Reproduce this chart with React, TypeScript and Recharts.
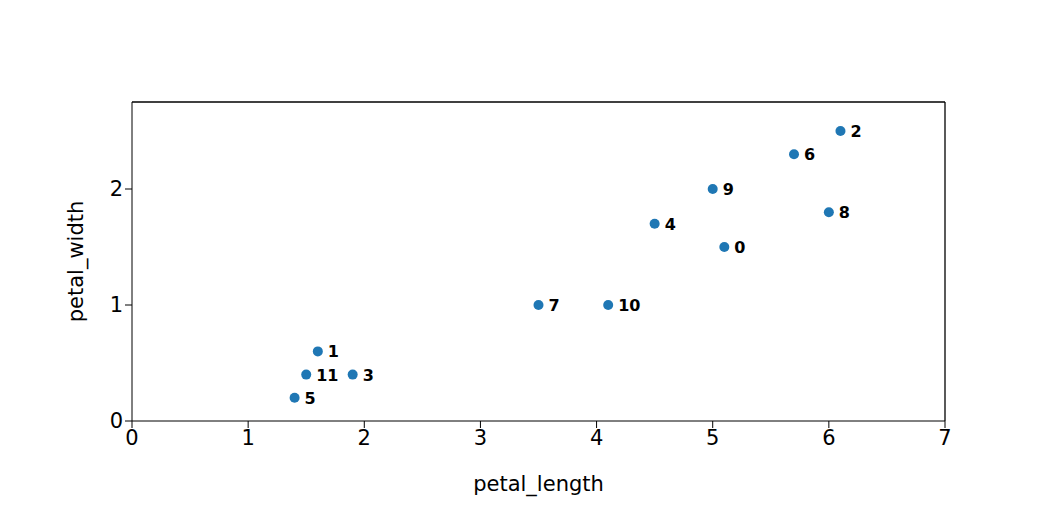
import React from "react";
import { ScatterChart, Scatter, XAxis, YAxis, LabelList, ReferenceLine } from "recharts";

const ids = ["0", "1", "2", "3", "4", "5", "6", "7", "8", "9", "10", "11"];
const petalLength = [5.1, 1.6, 6.1, 1.9, 4.5, 1.4, 5.7, 3.5, 6.0, 5.0, 4.1, 1.5];
const petalWidth = [1.5, 0.6, 2.5, 0.4, 1.7, 0.2, 2.3, 1.0, 1.8, 2.0, 1.0, 0.4];
const xTicks = [0, 1, 2, 3, 4, 5, 6, 7];
const yTicks = [0, 1, 2];

const data = ids.map((id, i) => ({ id, x: petalLength[i], y: petalWidth[i] }));

const font = "DejaVu Sans, sans-serif";

const App = () => {
  return (
    <div style={{ position: "absolute", left: 0, top: 0, fontFamily: font }}>
      <ScatterChart
        width={1052}
        height={527}
        margin={{ top: 102, right: 107, left: 72, bottom: 46 }}
      >
        <XAxis
          type="number"
          dataKey="x"
          domain={[0, 7]}
          ticks={xTicks}
          height={60}
          stroke="#000"
          tickSize={7}
          tick={{ fill: "#000", fontSize: 21, fontFamily: font }}
          label={{ value: "petal_length", position: "insideBottom", offset: -10, fill: "#000", fontSize: 21, fontFamily: font }}
        />
        <YAxis
          type="number"
          dataKey="y"
          domain={[0, 2.75]}
          ticks={yTicks}
          width={60}
          stroke="#000"
          tickSize={7}
          tick={{ fill: "#000", fontSize: 21, fontFamily: font }}
          label={{ value: "petal_width", angle: -90, position: "insideLeft", offset: 4, fill: "#000", fontSize: 21, fontFamily: font, style: { textAnchor: "middle" } }}
        />
        <ReferenceLine y={2.75} stroke="#000" strokeWidth={1.3} />
        <ReferenceLine x={7} stroke="#000" strokeWidth={1.3} />
        <Scatter data={data} fill="#1f77b4" isAnimationActive={false} shape={(p: any) => <circle cx={p.cx} cy={p.cy} r={5} fill="#1f77b4" />}>
          <LabelList
            dataKey="id"
            content={(p: any) => (
              <text x={p.x + p.width / 2 + 10} y={p.y + p.height / 2} dy={6} fontSize={16} fontWeight="bold" fontFamily={font} fill="#000">
                {p.value}
              </text>
            )}
          />
        </Scatter>
      </ScatterChart>
    </div>
  );
};

export default App;
